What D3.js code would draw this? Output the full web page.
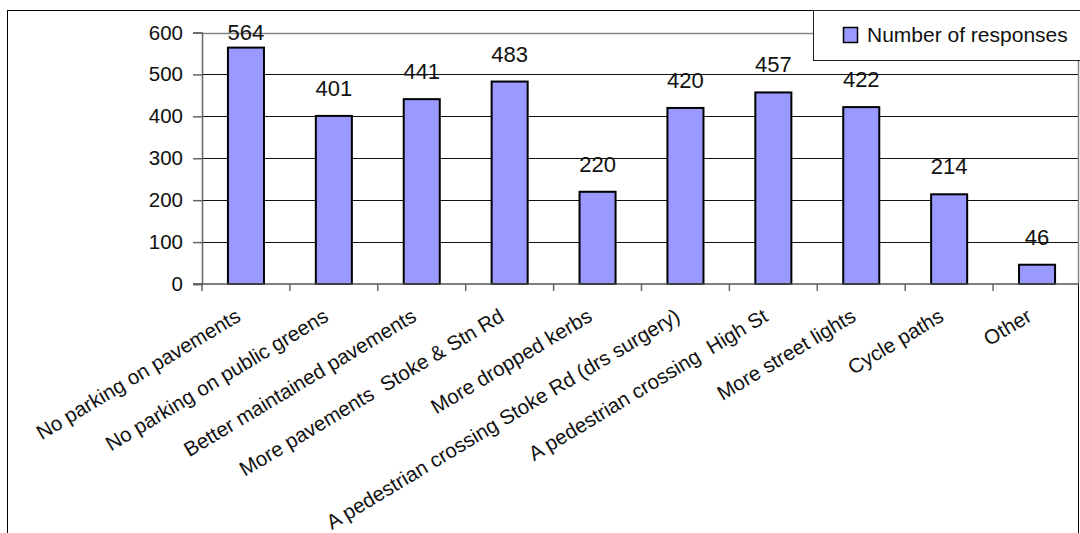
<!DOCTYPE html>
<html>
<head>
<meta charset="utf-8">
<script src="https://cdn.jsdelivr.net/npm/d3@7"></script>
<style>
  html, body { margin: 0; padding: 0; background: #fff; }
  svg { display: block; }
  text { font-family: "Liberation Sans", Arial, sans-serif; fill: #111; }
</style>
</head>
<body>
<svg id="chart" width="1080" height="533"></svg>
<script>
const categories = [
  "No parking on pavements",
  "No parking on public greens",
  "Better maintained pavements",
  "More pavements\u00a0 Stoke & Stn Rd",
  "More dropped kerbs",
  "A pedestrian crossing Stoke Rd (drs surgery)",
  "A pedestrian crossing\u00a0 High St",
  "More street lights",
  "Cycle paths",
  "Other"
];
const responses = [564, 401, 441, 483, 220, 420, 457, 422, 214, 46];
const yTicks = [0, 100, 200, 300, 400, 500, 600];
const seriesName = "Number of responses";

const svg = d3.select("#chart");
const plot = { left: 202, right: 1081, top: 32.5, bottom: 284 };

// chart frame
svg.append("rect")
  .attr("x", 7.5).attr("y", 10.5)
  .attr("width", 1071).attr("height", 540)
  .attr("fill", "#fff").attr("stroke", "#000").attr("stroke-width", 1);

const x = d3.scaleBand()
  .domain(categories)
  .range([plot.left, plot.right])
  .paddingInner(0.59)
  .paddingOuter(0.295);

const y = d3.scaleLinear().domain([0, 600]).range([plot.bottom, plot.top]);

// gridlines
svg.append("g").selectAll("line")
  .data(yTicks.filter(t => t > 0 && t < 600))
  .join("line")
  .attr("x1", plot.left).attr("x2", 1079)
  .attr("y1", d => Math.round(y(d)) + 0.5).attr("y2", d => Math.round(y(d)) + 0.5)
  .attr("stroke", "#111").attr("stroke-width", 1);

// plot area border top & right (gray)
svg.append("line")
  .attr("x1", plot.left).attr("x2", 1079)
  .attr("y1", Math.round(y(600)) + 0.5).attr("y2", Math.round(y(600)) + 0.5)
  .attr("stroke", "#888").attr("stroke-width", 1.5);
svg.append("line")
  .attr("x1", 1078.5).attr("x2", 1078.5)
  .attr("y1", y(600)).attr("y2", y(0))
  .attr("stroke", "#888").attr("stroke-width", 1.5);

// y axis
const yAxis = d3.axisLeft(y).tickValues(yTicks).tickSize(9).tickPadding(10);
const gy = svg.append("g").attr("transform", `translate(${plot.left},0)`).call(yAxis);
gy.select(".domain").attr("stroke", "#666").attr("stroke-width", 1.5);
gy.selectAll(".tick line").attr("stroke", "#666").attr("stroke-width", 1.5);
gy.selectAll(".tick text")
  .attr("font-size", 20.5).attr("fill", "#111")
  .style("font-family", "'Liberation Sans', Arial, sans-serif");

// bars
svg.append("g").selectAll("rect")
  .data(categories.map((c, i) => ({ c, v: responses[i] })))
  .join("rect")
  .attr("x", d => x(d.c))
  .attr("y", d => y(d.v))
  .attr("width", x.bandwidth())
  .attr("height", d => y(0) - y(d.v))
  .attr("fill", "#9999FF")
  .attr("stroke", "#000")
  .attr("stroke-width", 2);

// x axis (ticks between categories)
const step = x.step();
const boundaries = d3.range(categories.length + 1).map(i => plot.left + i * step);
svg.append("line")
  .attr("x1", plot.left - 9).attr("x2", 1079)
  .attr("y1", y(0)).attr("y2", y(0))
  .attr("stroke", "#555").attr("stroke-width", 1.5);
svg.append("g").selectAll("line")
  .data(boundaries)
  .join("line")
  .attr("x1", d => d).attr("x2", d => d)
  .attr("y1", y(0)).attr("y2", y(0) + 7)
  .attr("stroke", "#666").attr("stroke-width", 1.5);

// x labels (rotated)
svg.append("g").selectAll("text")
  .data(categories)
  .join("text")
  .attr("transform", d => `translate(${x(d) + x.bandwidth() / 2 - 4},320) rotate(-31)`)
  .attr("text-anchor", "end")
  .attr("font-size", 20.5)
  .text(d => d);

// value labels
svg.append("g").selectAll("text")
  .data(categories.map((c, i) => ({ c, v: responses[i] })))
  .join("text")
  .attr("x", d => x(d.c) + x.bandwidth() / 2)
  .attr("y", d => Math.max(y(d.v) - 20, y(600) + 7.5))
  .attr("text-anchor", "middle")
  .attr("font-size", 22)
  .text(d => d.v);

// legend
const lg = svg.append("g");
lg.append("rect")
  .attr("x", 813.5).attr("y", 10.5)
  .attr("width", 270).attr("height", 50)
  .attr("fill", "#fff").attr("stroke", "#222").attr("stroke-width", 1);
lg.append("rect")
  .attr("x", 843.5).attr("y", 27.5)
  .attr("width", 14).attr("height", 15)
  .attr("fill", "#9999FF").attr("stroke", "#000").attr("stroke-width", 1.5);
lg.append("text")
  .attr("x", 867).attr("y", 42)
  .attr("font-size", 21)
  .text(seriesName);
</script>
</body>
</html>
